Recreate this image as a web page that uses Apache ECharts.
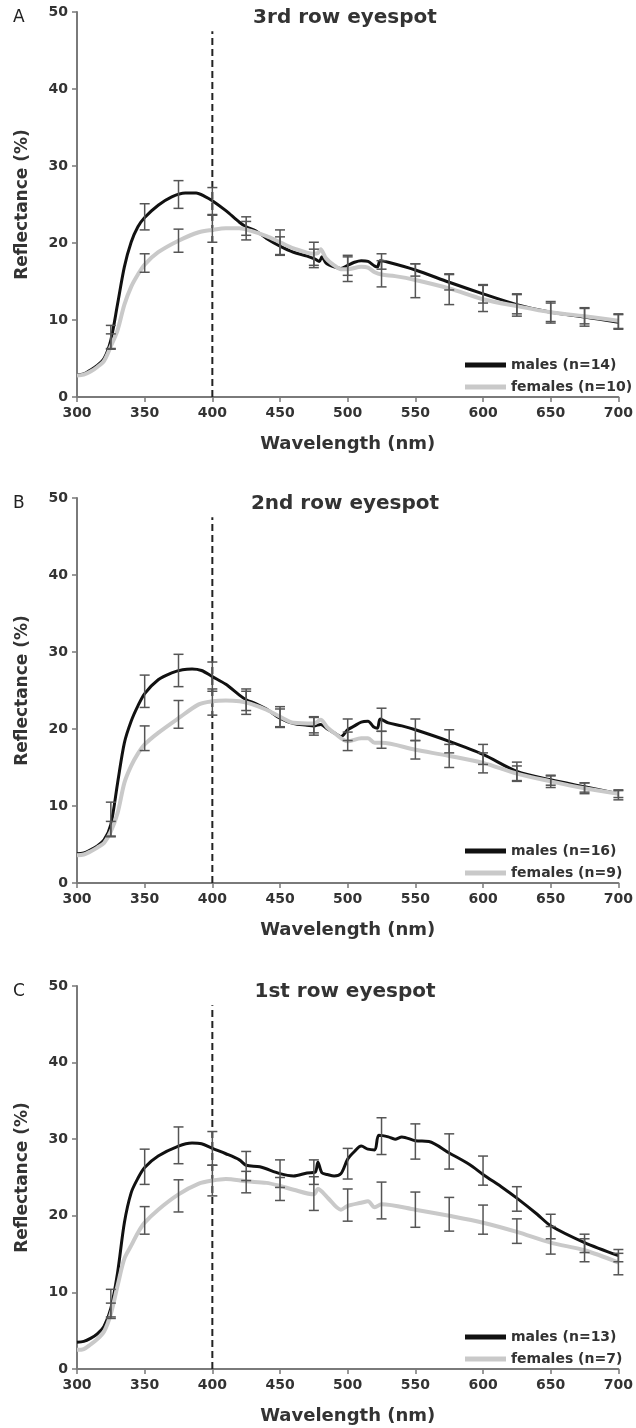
<!DOCTYPE html>
<html>
<head>
<meta charset="utf-8">
<title>Eyespot reflectance</title>
<script src="https://cdn.jsdelivr.net/npm/echarts@6/dist/echarts.min.js"></script>
<style>
  html, body { margin: 0; padding: 0; background: #fff; }
  #chart { width: 636px; height: 1428px; }
</style>
</head>
<body>
<div id="chart"></div>
<script>
// wavelengths (nm) where the error bars sit
var errWl = [325, 350, 375, 400, 425, 450, 475, 500, 525, 550, 575, 600, 625, 650, 675, 700];
var xTicks = [300, 350, 400, 450, 500, 550, 600, 650, 700];
var yTicks = [0, 10, 20, 30, 40, 50];

// A - 3rd row eyespot, [wavelength, reflectance %]
var maleA = [[300,2.9],[305,3.0],[310,3.5],[315,4.1],[320,5.0],[325,7.4],[330,12.1],[335,16.9],[340,20.1],[345,22.1],[350,23.3],[360,24.9],[370,26.0],[380,26.5],[388,26.5],[395,26.0],[400,25.5],[410,24.2],[420,22.7],[425,22.1],[432,21.6],[440,20.6],[450,19.6],[460,18.8],[470,18.3],[476,17.9],[479,17.6],[481,18.2],[484,17.4],[490,16.9],[495,16.7],[500,17.1],[505,17.5],[510,17.7],[515,17.6],[520,17.0],[522,16.9],[524,17.7],[530,17.5],[550,16.5],[575,14.9],[600,13.4],[625,12.0],[650,11.0],[675,10.4],[700,9.7]];
var femaleA = [[300,2.8],[305,2.9],[310,3.3],[315,3.9],[320,4.7],[325,6.6],[330,8.7],[335,12.0],[340,14.3],[345,15.9],[350,17.2],[360,18.8],[375,20.3],[390,21.4],[400,21.7],[410,21.9],[420,21.9],[428,21.6],[440,20.9],[450,20.1],[460,19.3],[475,18.6],[478,18.7],[480,19.2],[484,18.0],[490,17.1],[495,16.6],[500,16.6],[510,16.9],[515,16.8],[520,16.2],[525,15.9],[535,15.7],[550,15.2],[575,14.1],[600,12.7],[625,11.8],[650,11.0],[675,10.5],[700,9.9]];
// [mean, half error] at errWl
var maleAErr = [[7.8,1.5],[23.4,1.7],[26.3,1.8],[25.4,1.8],[22.2,1.2],[19.6,1.2],[18.0,1.2],[17.1,1.3],[17.6,1.0],[16.5,0.8],[14.9,1.0],[13.4,1.2],[12.1,1.3],[11.0,1.4],[10.4,1.2],[9.8,1.0]];
var femaleAErr = [[7.2,1.0],[17.4,1.2],[20.3,1.5],[21.9,1.8],[21.6,1.2],[20.1,1.6],[18.6,1.5],[16.6,1.6],[16.0,1.7],[15.1,2.2],[14.0,2.0],[12.8,1.7],[11.9,1.4],[11.0,1.2],[10.5,1.0],[9.8,0.9]];

// B - 2nd row eyespot
var maleB = [[300,3.8],[305,3.9],[310,4.3],[315,4.8],[320,5.6],[325,7.6],[330,13.0],[335,18.2],[340,21.0],[345,23.0],[350,24.6],[360,26.4],[370,27.3],[378,27.7],[385,27.8],[392,27.6],[400,26.8],[410,25.8],[420,24.4],[425,23.8],[432,23.3],[440,22.6],[450,21.4],[460,20.7],[470,20.5],[475,20.4],[480,20.6],[485,20.0],[490,19.5],[495,19.0],[500,19.9],[505,20.4],[510,20.9],[515,21.0],[519,20.3],[522,20.1],[524,21.3],[530,20.8],[540,20.4],[550,19.9],[575,18.4],[600,16.7],[625,14.5],[650,13.4],[675,12.5],[700,11.6]];
var femaleB = [[300,3.6],[305,3.7],[310,4.1],[315,4.6],[320,5.2],[325,6.7],[330,9.1],[335,13.0],[340,15.2],[345,16.8],[350,18.0],[360,19.5],[375,21.4],[390,23.2],[400,23.6],[410,23.7],[420,23.6],[428,23.3],[440,22.5],[450,21.6],[460,20.8],[475,20.7],[480,21.2],[485,20.2],[490,19.5],[500,18.4],[510,18.8],[515,18.8],[520,18.2],[525,18.2],[550,17.3],[575,16.5],[600,15.6],[625,14.2],[650,13.2],[675,12.3],[700,11.6]];
var maleBErr = [[8.3,2.2],[24.9,2.1],[27.6,2.1],[26.8,1.9],[23.8,1.4],[21.4,1.2],[20.4,1.2],[19.9,1.4],[21.2,1.5],[19.9,1.4],[18.4,1.5],[16.7,1.3],[14.5,1.2],[13.3,0.6],[12.4,0.6],[11.4,0.6]];
var femaleBErr = [[7.0,1.0],[18.8,1.6],[21.9,1.8],[23.5,1.7],[23.4,1.5],[21.6,1.3],[20.5,1.0],[18.4,1.2],[18.6,1.1],[17.3,1.2],[16.5,1.5],[15.6,1.3],[14.2,1.0],[13.2,0.8],[12.3,0.7],[11.6,0.5]];

// C - 1st row eyespot
var maleC = [[300,3.5],[305,3.6],[310,4.0],[315,4.6],[320,5.6],[325,7.9],[330,12.6],[335,19.1],[340,23.0],[345,24.9],[350,26.3],[360,27.8],[375,29.1],[385,29.5],[392,29.4],[400,28.8],[410,28.1],[420,27.3],[425,26.6],[435,26.4],[450,25.5],[460,25.2],[470,25.6],[476,25.7],[478,27.0],[481,25.6],[485,25.4],[490,25.2],[495,25.5],[500,27.4],[505,28.4],[510,29.1],[515,28.7],[520,28.6],[523,30.5],[530,30.3],[535,30.0],[540,30.3],[550,29.8],[560,29.7],[575,28.2],[590,26.7],[600,25.4],[615,23.6],[625,22.3],[640,20.2],[650,18.7],[675,16.5],[700,14.8]];
var femaleC = [[300,2.5],[305,2.6],[310,3.2],[315,3.9],[320,4.9],[325,7.2],[330,10.9],[335,14.4],[340,16.1],[345,17.8],[350,19.1],[360,20.8],[375,22.8],[390,24.2],[400,24.6],[410,24.8],[425,24.5],[440,24.3],[450,23.9],[460,23.4],[475,22.8],[478,23.5],[485,22.4],[495,20.8],[500,21.3],[510,21.7],[515,21.9],[520,21.1],[525,21.5],[550,20.8],[575,20.0],[600,19.1],[625,17.9],[650,16.5],[675,15.5],[700,13.9]];
var maleCErr = [[8.6,1.8],[26.4,2.3],[29.2,2.4],[28.8,2.2],[26.5,1.9],[25.5,1.8],[25.7,1.6],[26.8,2.0],[30.4,2.4],[29.7,2.3],[28.4,2.3],[25.9,1.9],[22.2,1.6],[18.6,1.6],[16.4,1.2],[14.8,0.8]];
var femaleCErr = [[7.6,1.0],[19.4,1.8],[22.6,2.1],[24.6,2.0],[24.4,1.4],[23.5,1.5],[22.9,2.2],[21.4,2.1],[22.0,2.4],[20.8,2.3],[20.2,2.2],[19.5,1.9],[18.0,1.6],[16.8,1.8],[15.5,1.5],[13.7,1.4]];

var panels = [
  {letter:'A', title:'3rd row eyespot', male:maleA, female:femaleA, maleErr:maleAErr, femaleErr:femaleAErr, maleName:'males (n=14)', femaleName:'females (n=10)', top:12, height:385},
  {letter:'B', title:'2nd row eyespot', male:maleB, female:femaleB, maleErr:maleBErr, femaleErr:femaleBErr, maleName:'males (n=16)', femaleName:'females (n=9)', top:498, height:385},
  {letter:'C', title:'1st row eyespot', male:maleC, female:femaleC, maleErr:maleCErr, femaleErr:femaleCErr, maleName:'males (n=13)', femaleName:'females (n=7)', top:986, height:383}
];

var FONT = '"DejaVu Sans", "Liberation Sans", Arial, sans-serif';
var TXT = '#333';
var AXIS = '#7a7a7a';

// [wavelength, low, high] rows for the error bar series
function errRows(list) {
  return list.map(function (d, i) { return [errWl[i], d[0] - d[1], d[0] + d[1]]; });
}

function renderErr(params, api) {
  var x = api.value(0);
  var p1 = api.coord([x, api.value(2)]);
  var p2 = api.coord([x, api.value(1)]);
  var w = 5;
  var st = {stroke: '#555', lineWidth: 1.5};
  return {
    type: 'group',
    children: [
      {type: 'line', shape: {x1: p1[0], y1: p1[1], x2: p2[0], y2: p2[1]}, style: st},
      {type: 'line', shape: {x1: p1[0] - w, y1: p1[1], x2: p1[0] + w, y2: p1[1]}, style: st},
      {type: 'line', shape: {x1: p2[0] - w, y1: p2[1], x2: p2[0] + w, y2: p2[1]}, style: st}
    ]
  };
}

var grids = [], xAxes = [], yAxes = [], series = [], legends = [], graphics = [];

panels.forEach(function (p, i) {
  grids.push({left: 77, right: 16, top: p.top, height: p.height});
  xAxes.push({
    gridIndex: i, type: 'value', min: xTicks[0], max: xTicks[xTicks.length - 1], interval: 50,
    name: 'Wavelength (nm)', nameLocation: 'middle', nameGap: 38,
    nameTextStyle: {fontFamily: FONT, fontWeight: 'bold', fontSize: 18, color: TXT},
    axisLine: {lineStyle: {color: AXIS, width: 2}},
    axisTick: {length: 5, lineStyle: {color: AXIS, width: 1.5}},
    axisLabel: {fontFamily: FONT, fontWeight: 'bold', fontSize: 14, color: TXT, margin: 9},
    splitLine: {show: false}
  });
  yAxes.push({
    gridIndex: i, type: 'value', min: yTicks[0], max: yTicks[yTicks.length - 1], interval: 10,
    name: 'Reflectance (%)', nameLocation: 'middle', nameGap: 46,
    nameTextStyle: {fontFamily: FONT, fontWeight: 'bold', fontSize: 17, color: TXT},
    axisLine: {show: true, lineStyle: {color: AXIS, width: 2}},
    axisTick: {show: true, length: 5, lineStyle: {color: AXIS, width: 1.5}},
    axisLabel: {fontFamily: FONT, fontWeight: 'bold', fontSize: 14, color: TXT, margin: 9},
    splitLine: {show: false}
  });

  // dashed marker at 400 nm
  series.push({
    type: 'line', xAxisIndex: i, yAxisIndex: i, silent: true, symbol: 'none', z: 1,
    data: [[400, 0], [400, 47.5]],
    lineStyle: {color: '#222', width: 2, type: [7, 4]}
  });
  series.push({
    name: p.maleName, type: 'line', xAxisIndex: i, yAxisIndex: i, data: p.male,
    symbol: 'none', smooth: 0.3, z: 2,
    itemStyle: {color: '#111'}, lineStyle: {color: '#111', width: 3}
  });
  series.push({
    name: p.femaleName, type: 'line', xAxisIndex: i, yAxisIndex: i, data: p.female,
    symbol: 'none', smooth: 0.3, z: 3,
    itemStyle: {color: '#c9c9c9'}, lineStyle: {color: '#c9c9c9', width: 4}
  });
  series.push({
    type: 'custom', xAxisIndex: i, yAxisIndex: i, silent: true, z: 4,
    renderItem: renderErr, encode: {x: 0, y: [1, 2]}, data: errRows(p.maleErr)
  });
  series.push({
    type: 'custom', xAxisIndex: i, yAxisIndex: i, silent: true, z: 4,
    renderItem: renderErr, encode: {x: 0, y: [1, 2]}, data: errRows(p.femaleErr)
  });

  legends.push({
    data: [p.maleName, p.femaleName], orient: 'vertical', left: 460, top: p.top + p.height - 44,
    icon: 'rect', itemWidth: 41, itemHeight: 5, itemGap: 8, selectedMode: false,
    textStyle: {fontFamily: FONT, fontWeight: 'bold', fontSize: 14, color: TXT}
  });

  graphics.push({
    type: 'text', left: 13, top: p.top - 3,
    style: {text: p.letter, font: '17px ' + FONT, fill: '#222'}
  });
  graphics.push({
    type: 'text', x: 345, y: p.top - 4,
    style: {text: p.title, font: 'bold 20px ' + FONT, fill: TXT, textAlign: 'center'}
  });
});

var myChart = echarts.init(document.getElementById('chart'));
myChart.setOption({
  animation: false,
  backgroundColor: '#fff',
  grid: grids,
  xAxis: xAxes,
  yAxis: yAxes,
  legend: legends,
  graphic: graphics,
  series: series
});
</script>
</body>
</html>
